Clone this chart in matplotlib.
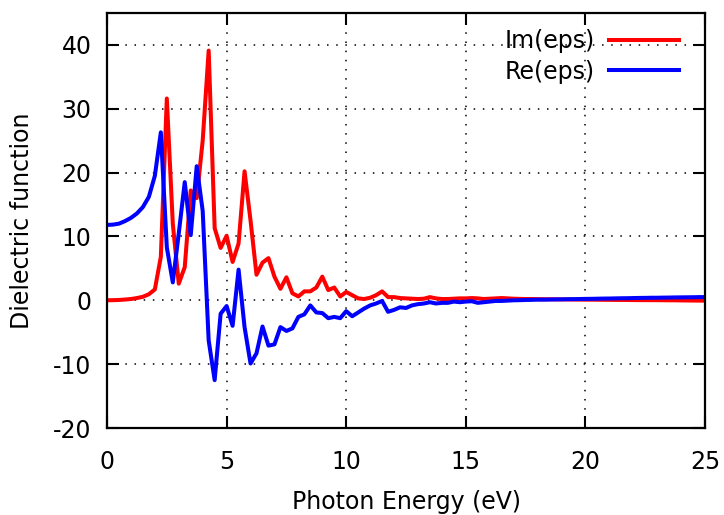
import numpy as np
import matplotlib
matplotlib.use("Agg")
import matplotlib.pyplot as plt

# photon energy grid (eV), step 0.25
energy = np.arange(101) * 0.25

im_eps = [0.0, 0.02, 0.05, 0.12, 0.2, 0.35, 0.55, 0.95, 1.7, 6.8,
          31.6, 12.0, 2.6, 5.2, 17.2, 16.0, 25.0, 39.1, 11.3, 8.2,
          10.1, 6.0, 8.9, 20.2, 12.5, 4.0, 5.9, 6.6, 3.7, 1.8,
          3.6, 1.1, 0.6, 1.4, 1.4, 2.0, 3.7, 1.6, 2.0, 0.6,
          1.3, 0.8, 0.3, 0.2, 0.4, 0.8, 1.4, 0.5, 0.5, 0.35,
          0.3, 0.25, 0.2, 0.25, 0.5, 0.3, 0.2, 0.2, 0.25, 0.3,
          0.3, 0.35, 0.3, 0.2, 0.25, 0.3, 0.35, 0.3, 0.25, 0.22,
          0.2, 0.2, 0.18, 0.17, 0.16, 0.15, 0.14, 0.13, 0.12, 0.11,
          0.1, 0.1, 0.09, 0.08, 0.07, 0.06, 0.06, 0.05, 0.04, 0.03,
          0.03, 0.02, 0.02, 0.01, 0.0, 0.0, -0.02, -0.03, -0.04, -0.05,
          -0.05]

re_eps = [11.8, 11.85, 12.0, 12.4, 12.9, 13.6, 14.6, 16.2, 19.5, 26.3,
          8.3, 2.8, 10.5, 18.5, 10.2, 21.0, 14.0, -6.3, -12.5, -2.1,
          -0.9, -4.0, 4.8, -4.2, -9.9, -8.3, -4.1, -7.1, -6.9, -4.2,
          -4.8, -4.4, -2.6, -2.2, -0.8, -1.9, -2.0, -2.8, -2.6, -2.8,
          -1.7, -2.5, -1.9, -1.3, -0.8, -0.5, -0.1, -1.8, -1.5, -1.1,
          -1.2, -0.8, -0.6, -0.5, -0.3, -0.5, -0.4, -0.4, -0.2, -0.3,
          -0.2, -0.15, -0.4, -0.3, -0.2, -0.1, -0.1, -0.05, 0.0, 0.02,
          0.05, 0.07, 0.1, 0.1, 0.12, 0.14, 0.15, 0.17, 0.18, 0.2,
          0.22, 0.23, 0.25, 0.27, 0.28, 0.3, 0.32, 0.33, 0.35, 0.37,
          0.38, 0.4, 0.4, 0.42, 0.43, 0.45, 0.46, 0.47, 0.48, 0.5,
          0.5]

xticks = [0, 5, 10, 15, 20, 25]
yticks = [-20, -10, 0, 10, 20, 30, 40]

plt.rcParams['font.family'] = ['DejaVu Sans']
plt.rcParams['axes.unicode_minus'] = False
fs = 17

fig = plt.figure(figsize=(7.24, 5.15), dpi=100)
ax = fig.add_axes([0.1478, 0.1689, 0.826, 0.806])

ax.plot(energy, im_eps, color="#ff0000", lw=2.9, label="Im(eps)")
ax.plot(energy, re_eps, color="#0000ff", lw=2.9, label="Re(eps)")

ax.set_xlim(0, 25)
ax.set_ylim(-20, 45)
ax.set_xticks(xticks)
ax.set_yticks(yticks)
ax.tick_params(direction="in", length=8.5, width=1.5, top=True, right=True,
               labelsize=fs, colors="black")
ax.tick_params(axis="x", pad=16)
ax.tick_params(axis="y", pad=11)
ax.grid(True, color="black", linestyle=(0, (1, 5)), lw=1.1)
for s in ax.spines.values():
    s.set_linewidth(1.6)

ax.set_xlabel("Photon Energy (eV)", fontsize=fs, labelpad=11)
ax.set_ylabel("Dielectric function", fontsize=fs, labelpad=14)

leg = ax.legend(loc="upper right", bbox_to_anchor=(0.972, 0.984),
                frameon=False, markerfirst=False, fontsize=fs,
                handlelength=2.97, handletextpad=0.6,
                labelspacing=0.28, borderaxespad=0)

fig.savefig("out.png", dpi=100)
